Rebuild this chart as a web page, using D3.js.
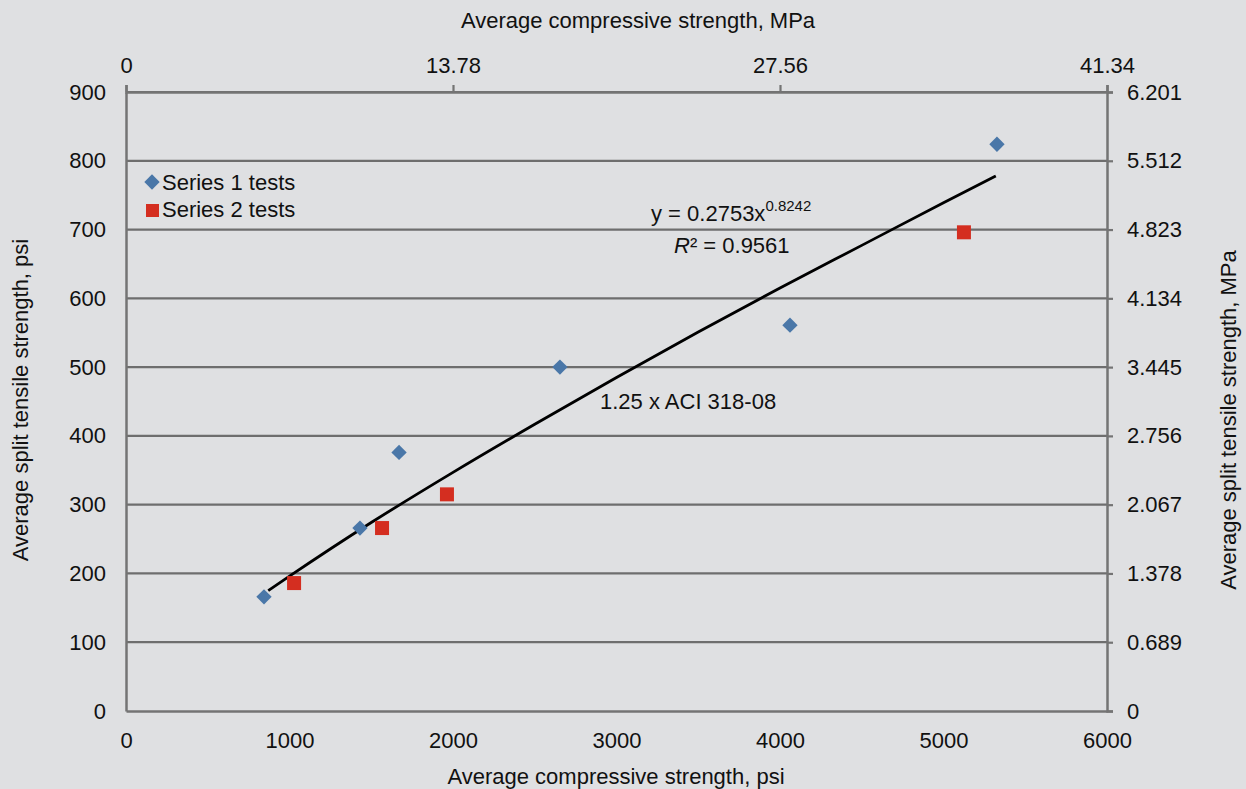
<!DOCTYPE html>
<html><head><meta charset="utf-8">
<script src="https://cdn.jsdelivr.net/npm/d3@7/dist/d3.min.js"></script>
<style>
html,body{margin:0;padding:0;background:#dfe0e2;}
svg{display:block;font-family:"Liberation Sans",Arial,sans-serif;}
</style></head>
<body>
<svg id="c" width="1246" height="789"></svg>
<script>
// ---- data (psi) ----
const series1X = [844, 1431, 1670, 2654, 4061, 5327];
const series1Y = [166, 266, 376, 500, 561, 824];
const series2X = [1028, 1566, 1963, 5125];
const series2Y = [186, 266, 315, 696];
// trend line points (psi)
const trendX = [870, 1000, 1500, 2000, 2500, 3000, 3500, 4000, 4500, 5000, 5320];
const trendY = [175, 196, 274, 347, 417, 485, 551, 615, 677, 739, 778];
// axis ticks
const bottomTicks = [0, 1000, 2000, 3000, 4000, 5000, 6000];
const leftTicks = [0, 100, 200, 300, 400, 500, 600, 700, 800, 900];
const topTicks = [0, 13.78, 27.56, 41.34];
const topTickLabels = ["0", "13.78", "27.56", "41.34"];
const rightTicks = [0, 0.689, 1.378, 2.067, 2.756, 3.445, 4.134, 4.823, 5.512, 6.201];
const rightTickLabels = ["0", "0.689", "1.378", "2.067", "2.756", "3.445", "4.134", "4.823", "5.512", "6.201"];

const svg = d3.select("#c");
const L = 126, R = 1107, T = 92, B = 711;
const x = d3.scaleLinear().domain([0, 6000]).range([L, R]);
const y = d3.scaleLinear().domain([0, 900]).range([B, T]);
const xTop = d3.scaleLinear().domain([0, 41.34]).range([L, R]);
const yRight = d3.scaleLinear().domain([0, 6.201]).range([B, T]);
const axisCol = "#747474", gridCol = "#6e6e6e", fs = 22;

// gridlines
svg.append("g").selectAll("line").data(leftTicks.filter(d => d > 0)).join("line")
  .attr("x1", L).attr("x2", R).attr("y1", d => y(d)).attr("y2", d => y(d))
  .attr("stroke", gridCol).attr("stroke-width", 2.2);

function styleAxis(g) {
  g.select(".domain").attr("stroke", axisCol).attr("stroke-width", 2.5);
  g.selectAll(".tick line").attr("stroke", axisCol).attr("stroke-width", 2.2);
  g.selectAll("text").attr("fill", "#111").attr("font-size", fs).attr("font-family", "Liberation Sans, Arial, sans-serif");
}
// bottom
svg.append("g").attr("transform", `translate(0,${B})`)
  .call(d3.axisBottom(x).tickValues(bottomTicks).tickSize(0).tickPadding(21).tickFormat(d3.format("d")))
  .call(styleAxis);
// left
svg.append("g").attr("transform", `translate(${L},0)`)
  .call(d3.axisLeft(y).tickValues(leftTicks).tickSize(0).tickPadding(20).tickFormat(d3.format("d")))
  .call(styleAxis);
// top
svg.append("g").attr("transform", `translate(0,${T})`)
  .call(d3.axisTop(xTop).tickValues(topTicks).tickSize(7).tickPadding(12).tickFormat((d, i) => topTickLabels[i]))
  .call(styleAxis);
// right
svg.append("g").attr("transform", `translate(${R},0)`)
  .call(d3.axisRight(yRight).tickValues(rightTicks).tickSize(6).tickPadding(14).tickFormat((d, i) => rightTickLabels[i]))
  .call(styleAxis);
svg.selectAll(".domain").attr("fill", "none");

// axis titles
svg.append("text").attr("x", 638).attr("y", 28).attr("text-anchor", "middle").attr("font-size", fs).attr("fill", "#111")
  .text("Average compressive strength, MPa");
svg.append("text").attr("x", 616).attr("y", 784).attr("text-anchor", "middle").attr("font-size", fs).attr("fill", "#111")
  .text("Average compressive strength, psi");
svg.append("text").attr("transform", "translate(28,400) rotate(-90)").attr("text-anchor", "middle").attr("font-size", fs).attr("fill", "#111")
  .text("Average split tensile strength, psi");
svg.append("text").attr("transform", "translate(1236,420) rotate(-90)").attr("text-anchor", "middle").attr("font-size", fs).attr("fill", "#111")
  .text("Average split tensile strength, MPa");

// trend line
const line = d3.line().x(d => x(d[0])).y(d => y(d[1])).curve(d3.curveMonotoneX);
svg.append("path").datum(trendX.map((v, i) => [v, trendY[i]])).attr("d", line)
  .attr("fill", "none").attr("stroke", "#000").attr("stroke-width", 2.8);

// markers
const blue = "#4a77a8", red = "#d42e20";
const diamond = d3.symbol().type(d3.symbolDiamond2).size(150);
svg.append("g").selectAll("path").data(series1X.map((v, i) => [v, series1Y[i]])).join("path")
  .attr("d", diamond).attr("transform", d => `translate(${x(d[0])},${y(d[1])})`)
  .attr("fill", blue);
svg.append("g").selectAll("rect").data(series2X.map((v, i) => [v, series2Y[i]])).join("rect")
  .attr("x", d => x(d[0]) - 7).attr("y", d => y(d[1]) - 7).attr("width", 14).attr("height", 14)
  .attr("fill", red);

// legend
svg.append("path").attr("d", diamond).attr("transform", "translate(152,182)").attr("fill", blue);
svg.append("text").attr("x", 162).attr("y", 190).attr("font-size", fs).attr("fill", "#111").text("Series 1 tests");
svg.append("rect").attr("x", 146).attr("y", 204).attr("width", 13).attr("height", 13).attr("fill", red);
svg.append("text").attr("x", 162).attr("y", 217).attr("font-size", fs).attr("fill", "#111").text("Series 2 tests");

// annotations
const eq = svg.append("text").attr("x", 651).attr("y", 221).attr("font-size", fs).attr("fill", "#111");
eq.append("tspan").text("y = 0.2753x");
eq.append("tspan").attr("dy", -10).attr("font-size", 15).text("0.8242");
const r2 = svg.append("text").attr("x", 674).attr("y", 253).attr("font-size", fs).attr("fill", "#111");
r2.append("tspan").attr("font-style", "italic").text("R");
r2.append("tspan").text("² = 0.9561");
svg.append("text").attr("x", 600).attr("y", 409).attr("font-size", fs).attr("fill", "#111").text("1.25 x ACI 318-08");
</script>
</body></html>
